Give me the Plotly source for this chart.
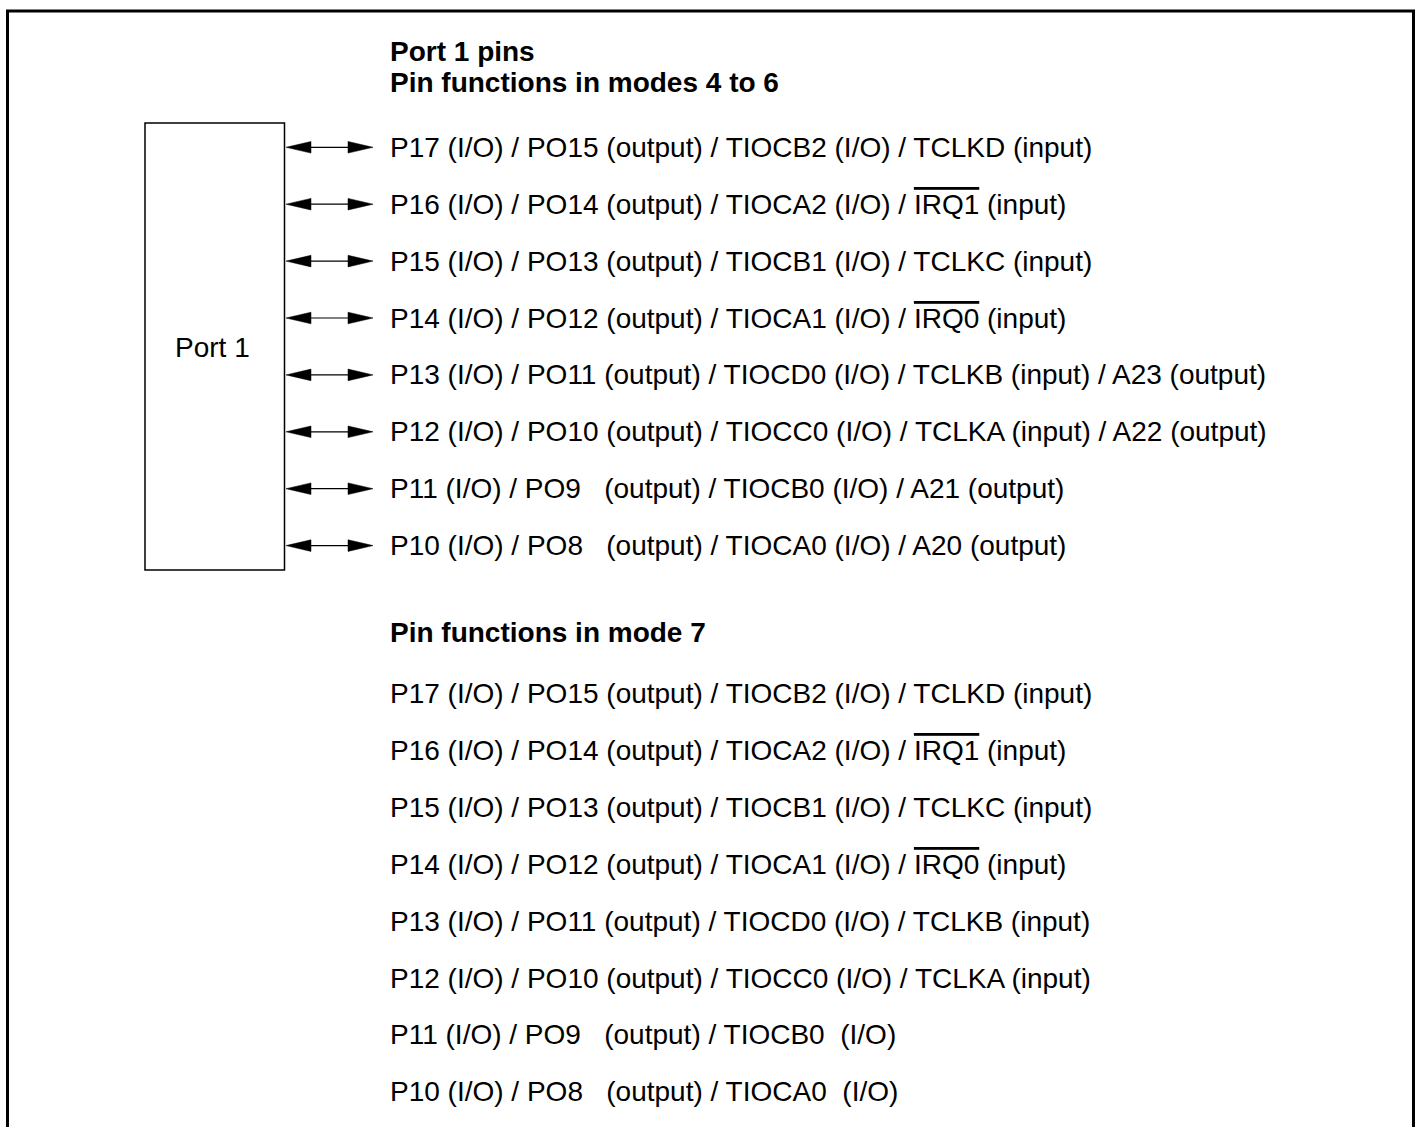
import plotly.graph_objects as go

W, H = 1417, 1127

header_top = "Port 1 pins"
header_modes46 = "Pin functions in modes 4 to 6"
header_mode7 = "Pin functions in mode 7"
port_label = "Port 1"

OL = '<span style="text-decoration:overline">{}</span>'

pins_modes46 = [
    "P17 (I/O) / PO15 (output) / TIOCB2 (I/O) / TCLKD (input)",
    "P16 (I/O) / PO14 (output) / TIOCA2 (I/O) / " + OL.format("IRQ1") + " (input)",
    "P15 (I/O) / PO13 (output) / TIOCB1 (I/O) / TCLKC (input)",
    "P14 (I/O) / PO12 (output) / TIOCA1 (I/O) / " + OL.format("IRQ0") + " (input)",
    "P13 (I/O) / PO11 (output) / TIOCD0 (I/O) / TCLKB (input) / A23 (output)",
    "P12 (I/O) / PO10 (output) / TIOCC0 (I/O) / TCLKA (input) / A22 (output)",
    "P11 (I/O) / PO9&nbsp;&nbsp; (output) / TIOCB0 (I/O) / A21 (output)",
    "P10 (I/O) / PO8&nbsp;&nbsp; (output) / TIOCA0 (I/O) / A20 (output)",
]

pins_mode7 = [
    "P17 (I/O) / PO15 (output) / TIOCB2 (I/O) / TCLKD (input)",
    "P16 (I/O) / PO14 (output) / TIOCA2 (I/O) / " + OL.format("IRQ1") + " (input)",
    "P15 (I/O) / PO13 (output) / TIOCB1 (I/O) / TCLKC (input)",
    "P14 (I/O) / PO12 (output) / TIOCA1 (I/O) / " + OL.format("IRQ0") + " (input)",
    "P13 (I/O) / PO11 (output) / TIOCD0 (I/O) / TCLKB (input)",
    "P12 (I/O) / PO10 (output) / TIOCC0 (I/O) / TCLKA (input)",
    "P11 (I/O) / PO9&nbsp;&nbsp; (output) / TIOCB0&nbsp; (I/O)",
    "P10 (I/O) / PO8&nbsp;&nbsp; (output) / TIOCA0&nbsp; (I/O)",
]

FONT = "Liberation Sans, Arial, sans-serif"
FS = 28
TEXT_X = 388
ROW0_46 = 147.3
ROW0_7 = 693.5
ROW_STEP = 56.9

fig = go.Figure()
shapes = []
annotations = []

# outer frame (open at bottom)
shapes.append(dict(type="path", path=f"M 7.5 {H} L 7.5 11 L 1413.5 11 L 1413.5 {H}",
                   line=dict(color="black", width=3)))
# Port box
shapes.append(dict(type="rect", x0=145, x1=284.5, y0=123, y1=570,
                   line=dict(color="black", width=1.5), fillcolor="white"))

def arrow(y):
    x0, x1 = 286, 373
    hl, hw = 25, 5.8
    shapes.append(dict(type="line", x0=x0 + 5, x1=x1 - 5, y0=y, y1=y,
                       line=dict(color="black", width=1.2)))
    shapes.append(dict(type="path",
                       path=f"M {x0} {y} L {x0+hl} {y-hw} L {x0+hl} {y+hw} Z",
                       fillcolor="black", line=dict(color="black", width=0.5)))
    shapes.append(dict(type="path",
                       path=f"M {x1} {y} L {x1-hl} {y-hw} L {x1-hl} {y+hw} Z",
                       fillcolor="black", line=dict(color="black", width=0.5)))

TEXT_DY = 0  # offset from cap-centre to annotation middle

def label(x, y, text, bold=False, anchor="left"):
    annotations.append(dict(x=x, y=y + TEXT_DY, xref="x", yref="y",
                            text=f"<b>{text}</b>" if bold else text,
                            showarrow=False, xanchor=anchor, yanchor="middle",
                            font=dict(family=FONT, size=FS, color="black")))

label(TEXT_X, 51, header_top, bold=True)
label(TEXT_X, 82, header_modes46, bold=True)
label(TEXT_X, 632, header_mode7, bold=True)
label(212, 347.5, port_label, anchor="center")

for i, t in enumerate(pins_modes46):
    y = ROW0_46 + i * ROW_STEP
    arrow(y)
    label(TEXT_X, y, t)

for i, t in enumerate(pins_mode7):
    y = ROW0_7 + i * ROW_STEP
    label(TEXT_X, y, t)

fig.update_layout(
    width=W, height=H,
    margin=dict(l=0, r=0, t=0, b=0),
    paper_bgcolor="white", plot_bgcolor="white",
    xaxis=dict(range=[0, W], visible=False, fixedrange=True),
    yaxis=dict(range=[H, 0], visible=False, fixedrange=True),
    shapes=shapes, annotations=annotations, showlegend=False,
)

fig.write_html("out.html", config={"displayModeBar": False},
               post_script="document.body.style.margin='0';")
